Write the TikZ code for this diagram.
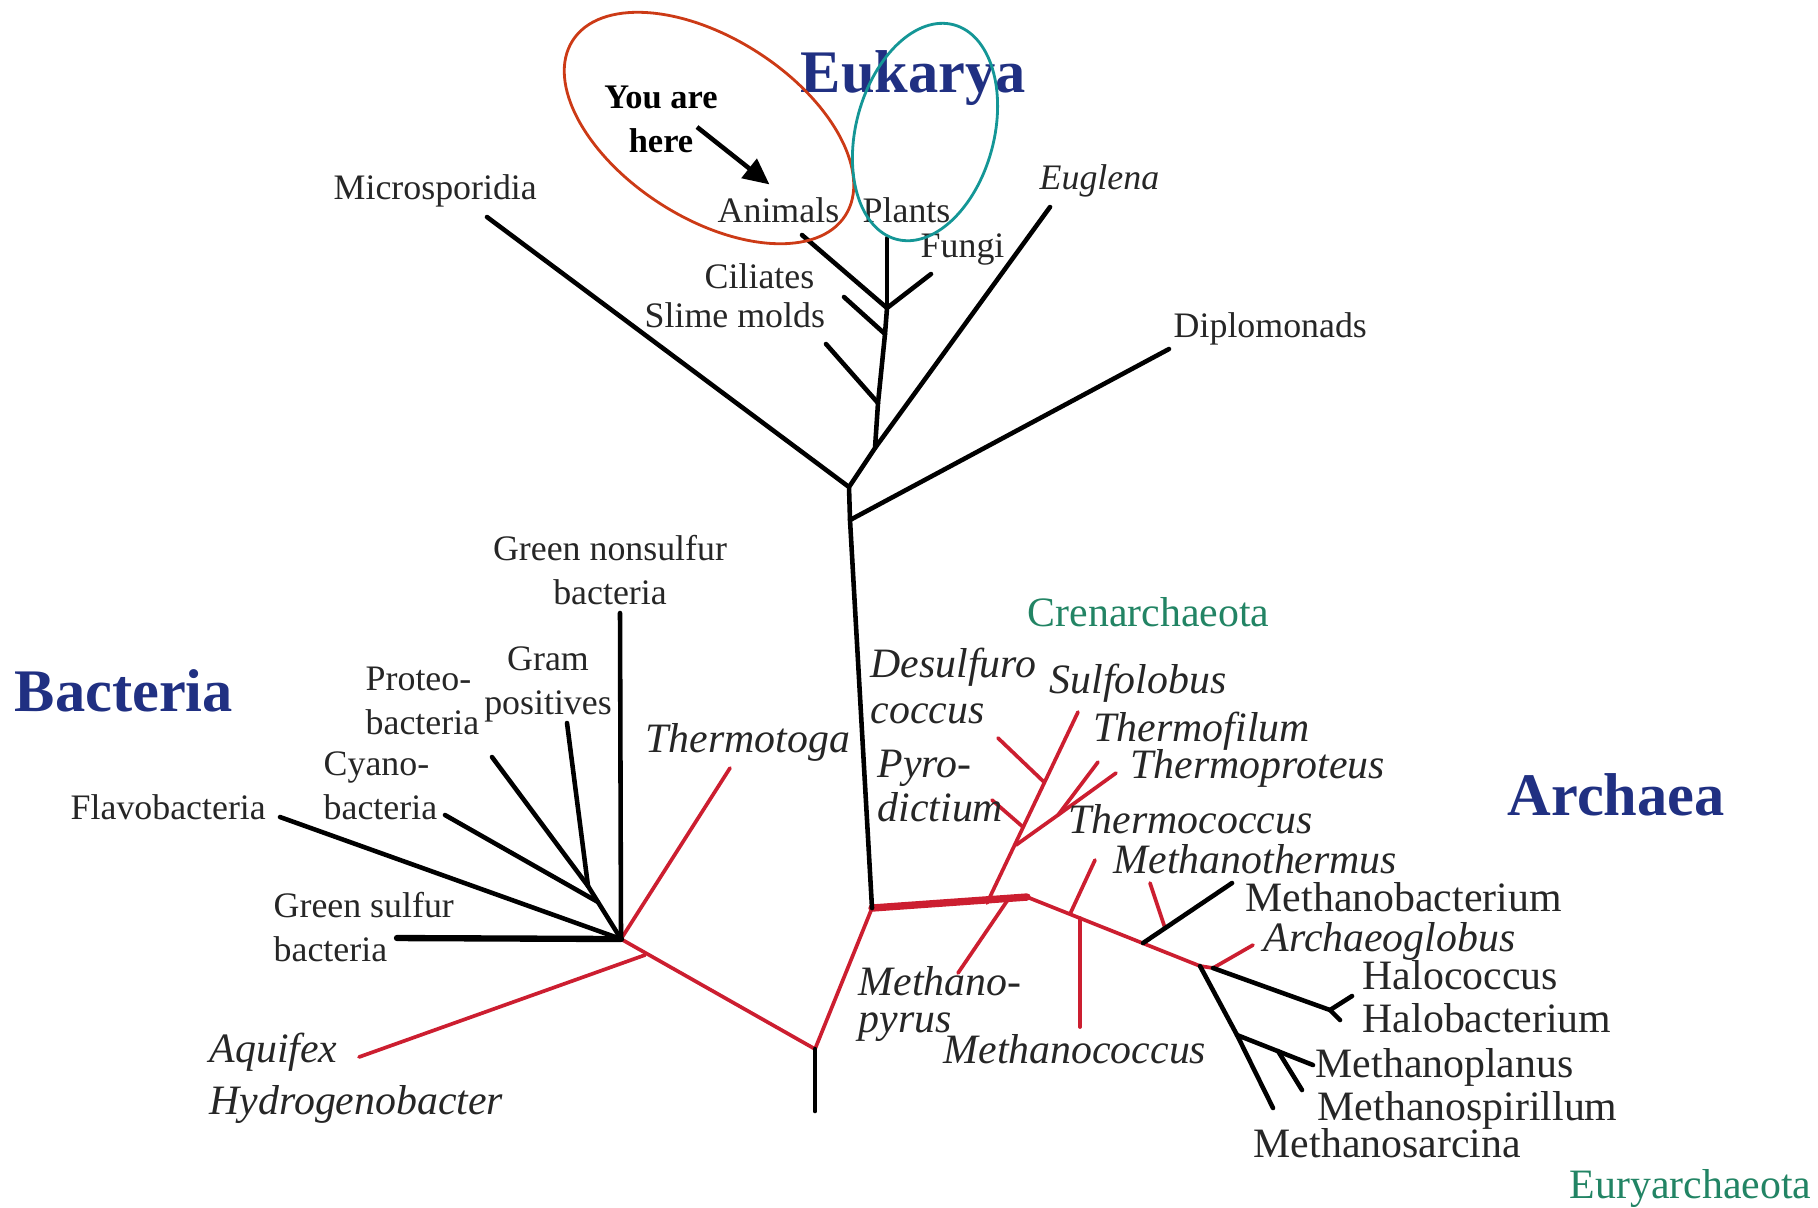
\documentclass[tikz,border=0pt]{standalone}
\usepackage{fontspec}
\setmainfont{Liberation Serif}
\usetikzlibrary{arrows.meta}

\definecolor{treered}{RGB}{204,30,48}
\definecolor{ringred}{RGB}{204,58,22}
\definecolor{ringteal}{RGB}{20,150,150}
\definecolor{domblue}{RGB}{32,48,130}
\definecolor{phylgreen}{RGB}{34,132,100}

\begin{document}
\begin{tikzpicture}[x=0.1mm,y=-0.1mm,
  blk/.style={line width=1.3pt,line cap=round,line join=round},
  rd/.style={line width=1.05pt,treered,line cap=round,line join=round},
  lab/.style={inner sep=0pt,anchor=base west,text=black!85,font=\fontsize{10.2}{12.5}\selectfont},
  big/.style={lab,font=\fontsize{11.9}{14}\selectfont},
  ital/.style={lab,font=\fontsize{11.9}{14}\selectfont\itshape},
  twoline/.style={anchor=north west,align=left},
  domtitle/.style={lab,text=domblue,font=\fontsize{17.2}{20}\selectfont\bfseries},
  phylum/.style={lab,text=phylgreen,font=\fontsize{11.9}{14}\selectfont}]
\useasboundingbox (0,0) rectangle (1818,1207);

% branch points and leaf ends
\coordinate (bot) at (815,1111);
\coordinate (root) at (815,1049);
\coordinate (bac) at (621,939);
\coordinate (aqj) at (645,955);
\coordinate (aqe) at (359,1057);
\coordinate (tte) at (730,768);
\coordinate (gnse) at (620,613);
\coordinate (pg) at (588,886);
\coordinate (cyj) at (598,902);
\coordinate (gpe) at (567,723);
\coordinate (pre) at (492,757);
\coordinate (cye) at (445,815);
\coordinate (fle) at (280,817);
\coordinate (gse) at (397,938);

\coordinate (arc) at (872,908);
\coordinate (dipj) at (850,520);
\coordinate (dipe) at (1169,349);
\coordinate (micj) at (849,487);
\coordinate (mice) at (487,217);
\coordinate (eugj) at (875,448);
\coordinate (euge) at (1050,207);
\coordinate (smj) at (878,403);
\coordinate (sme) at (826,344);
\coordinate (cij) at (885,334);
\coordinate (cie) at (844,297);
\coordinate (afp) at (887,308);
\coordinate (ane) at (802,235);
\coordinate (ple) at (887,238);
\coordinate (fue) at (931,274);

\coordinate (crj) at (987,903);
\coordinate (mpj) at (1007,901);
\coordinate (kink) at (1027,897);
\coordinate (mpe) at (958,973);
\coordinate (tfj) at (1016,845);
\coordinate (pyj) at (1023,827);
\coordinate (dsj) at (1044,782);
\coordinate (sue) at (1078,712);
\coordinate (dse) at (998,738);
\coordinate (pye) at (992,800);
\coordinate (tpj) at (1058,815);
\coordinate (tfe) at (1098,762);
\coordinate (tpe) at (1116,773);
\coordinate (tcj) at (1070,914);
\coordinate (tce) at (1095,860);
\coordinate (mcj) at (1080,918);
\coordinate (mce) at (1080,1027);
\coordinate (mbj) at (1143,943);
\coordinate (mbe) at (1232,883);
\coordinate (mtj) at (1165,928);
\coordinate (mte) at (1150,883);
\coordinate (endj) at (1200,966);
\coordinate (hj) at (1213,968);
\coordinate (age) at (1253,945);
\coordinate (halj) at (1330,1010);
\coordinate (hce) at (1352,996);
\coordinate (hbe) at (1340,1020);
\coordinate (mj) at (1237,1035);
\coordinate (msae) at (1273,1108);
\coordinate (msj) at (1278,1051);
\coordinate (mple) at (1313,1065);
\coordinate (mspe) at (1302,1090);

% red lineages
\draw[rd] (bac) -- (root) -- (arc);
\draw[rd,line width=2.1pt] (arc) -- (kink);
\draw[rd] (kink) -- (endj) -- (hj);
\draw[rd] (crj) -- (sue);
\path[rd]
  (aqj) edge (aqe)
  (bac) edge (tte)
  (mpj) edge (mpe)
  (dsj) edge (dse)
  (pyj) edge (pye)
  (tfj) edge (tpj)
  (tpj) edge (tfe)
  (tpj) edge (tpe)
  (tcj) edge (tce)
  (mcj) edge (mce)
  (mtj) edge (mte)
  (hj) edge (age);

% black lineages
\draw[blk] (bot) -- (root);
\draw[blk] (arc) -- (dipj) -- (micj) -- (eugj) -- (smj) -- (cij) -- (afp);
\path[blk]
  (dipj) edge (dipe)
  (micj) edge (mice)
  (eugj) edge (euge)
  (smj) edge (sme)
  (cij) edge (cie)
  (afp) edge (ane)
  (afp) edge (ple)
  (afp) edge (fue);
\path[blk]
  (bac) edge (gnse)
  (bac) edge (pg)
  (pg) edge (gpe)
  (pg) edge (pre)
  (cyj) edge (cye)
  (bac) edge (fle)
  (bac) edge[line width=1.8pt] (gse);
\path[blk]
  (mbj) edge (mbe)
  (hj) edge (halj)
  (halj) edge (hce)
  (halj) edge (hbe)
  (endj) edge (mj)
  (mj) edge (msae)
  (mj) edge (mple)
  (msj) edge (mspe);

% Eukarya labels
\node[domtitle] (euk) at (800,92) {Eukarya};
\node[lab,font=\fontsize{9.8}{12.5}\selectfont\bfseries,text=black,anchor=north,align=center] (yah) at (661,85) {You are\\here};
\node[lab] (micro) at (333,199) {Microsporidia};
\node[lab] (animals) at (717,222) {Animals};
\node[lab] (plants) at (862,222) {Plants};
\node[lab] (fungi) at (920,257) {Fungi};
\node[lab,font=\fontsize{10.2}{12.5}\selectfont\itshape] (euglena) at (1039,189) {Euglena};
\node[lab] (ciliates) at (704,288) {Ciliates};
\node[lab] (slime) at (644,327) {Slime molds};
\node[lab] (diplo) at (1173,337) {Diplomonads};
\coordinate (yahs) at (697,127);
\draw[line width=1.3pt,-{Triangle[length=2.6mm,width=2.4mm]}] (yahs) -- ([shift={(-9,-12)}]animals.north);
\draw[ringred,line width=0.8pt,rotate around={-32.7:(709,128)}] (709,128) ellipse [x radius=16.2mm,y radius=9mm];
\draw[ringteal,line width=0.8pt,rotate around={-15:(925,132)}] (925,132) ellipse [x radius=6.9mm,y radius=11.1mm];

% Bacteria labels
\node[domtitle] (bacteria) at (14,711) {Bacteria};
\node[lab,anchor=north,align=center] (gns) at (610,535) {Green nonsulfur\\bacteria};
\node[lab,anchor=north,align=center] (gram) at (548,646) {Gram\\positives};
\node[lab,twoline] (proteo) at (365,666) {Proteo-\\bacteria};
\node[lab,twoline] (cyano) at (323,751) {Cyano-\\bacteria};
\node[lab] (flavo) at (70,819) {Flavobacteria};
\node[lab,twoline] (gsulf) at (273,892) {Green sulfur\\bacteria};
\node[ital] (thermotoga) at (645,752) {Thermotoga};
\node[ital,twoline,font=\fontsize{11.9}{14.8}\selectfont\itshape] (aquifex) at (209,1032) {Aquifex\\Hydrogenobacter};

% Archaea labels
\node[domtitle] (archaea) at (1507,815) {Archaea};
\node[phylum] (cren) at (1027,626) {Crenarchaeota};
\node[phylum] (eury) at (1569,1198) {Euryarchaeota};
\node[ital,twoline,font=\fontsize{11.9}{13.1}\selectfont\itshape] (desulf) at (870,647) {Desulfuro\\coccus};
\node[ital] (sulfo) at (1049,693) {Sulfolobus};
\node[ital] (tfilum) at (1093,741) {Thermofilum};
\node[ital] (tproteus) at (1130,778) {Thermoproteus};
\node[ital,twoline,font=\fontsize{11.9}{12.5}\selectfont\itshape] (pyro) at (877,749) {Pyro-\\dictium};
\node[ital] (tcoccus) at (1068,833) {Thermococcus};
\node[ital] (mthermus) at (1113,873) {Methanothermus};
\node[big] (mbact) at (1245,911) {Methanobacterium};
\node[ital] (aglobus) at (1263,951) {Archaeoglobus};
\node[big] (hcoccus) at (1362,989) {Halococcus};
\node[big] (hbact) at (1362,1032) {Halobacterium};
\node[big] (mplanus) at (1315,1077) {Methanoplanus};
\node[big] (mspir) at (1317,1120) {Methanospirillum};
\node[big] (msarc) at (1253,1157) {Methanosarcina};
\node[ital,twoline,font=\fontsize{11.9}{10.5}\selectfont\itshape] (mpyrus) at (858,966) {Methano-\\pyrus};
\node[ital] (mcoccus) at (943,1063) {Methanococcus};
\end{tikzpicture}
\end{document}
